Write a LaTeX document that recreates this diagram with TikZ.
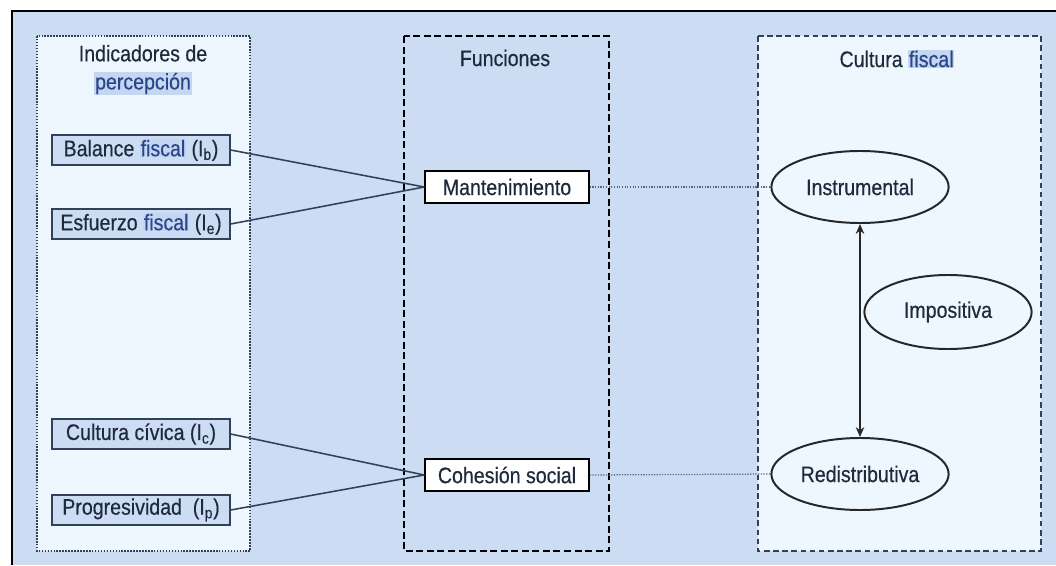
\documentclass[tikz,border=0pt]{standalone}
\usepackage{fontspec}
\setmainfont{Liberation Sans}[FakeStretch=0.87, FakeBold=0.4]
\usepackage{tikz}
\usetikzlibrary{shapes.geometric, arrows.meta, positioning}
\definecolor{bgblue}{RGB}{204,220,243}
\definecolor{panelwhite}{RGB}{238,247,253}
\definecolor{inkblue}{RGB}{30,42,60}
\definecolor{edgeblue}{RGB}{50,64,90}
\definecolor{hlblue}{RGB}{196,214,240}
\definecolor{hltext}{RGB}{40,70,140}
% highlighted word
\newcommand{\hlword}[1]{{\setlength{\fboxsep}{0.6pt}\colorbox{hlblue}{\textcolor{hltext}{#1}}}}

\begin{document}
\begin{tikzpicture}[
    x=0.025cm, y=-0.025cm,
    font=\fontsize{16pt}{20pt}\selectfont,
    indicator/.style={
      draw=edgeblue, line width=1.5pt, fill=bgblue, text=inkblue,
      minimum width=4.43cm, minimum height=0.74cm, inner sep=2pt
    },
    function/.style={
      draw=black, line width=1.1pt, fill=white, text=inkblue,
      minimum width=4.1cm, minimum height=0.8cm, inner sep=2pt
    },
    culture/.style={
      ellipse, draw=black!85, line width=1.4pt, fill=panelwhite, text=inkblue,
      minimum width=4.43cm, minimum height=1.8cm, inner sep=0pt
    },
    heading/.style={text=inkblue, align=center},
    link/.style={draw=edgeblue, line width=1.1pt},
    dotlink/.style={draw=edgeblue!80, line width=0.9pt, densely dotted}
  ]
    \useasboundingbox (0,0) rectangle (1056,565);

    % Background and frame
    \fill[bgblue] (12,11) rectangle (1056,565);
    \draw[black, line width=1.6pt] (12,565) -- (12,11) -- (1056,11);

    % Column panels
    \draw[edgeblue, fill=panelwhite, line width=1.1pt, densely dotted]
      (37,36) rectangle (250,551);
    \draw[black, line width=1.6pt, dash pattern=on 5pt off 2.5pt]
      (404,36) rectangle (609,551);
    \draw[edgeblue, fill=panelwhite, line width=1.2pt, dash pattern=on 4pt off 2.5pt]
      (758,36) rectangle (1041,551);

    % Column headings
    \node[heading] (hindic) at (143,70) {Indicadores de\\\hlword{percepción}};
    \node[heading] (hfunc) at (505,58) {Funciones};
    \node[heading] (hcult) at (897,59) {Cultura \hlword{fiscal}};

    % Perception indicators
    \node[indicator] (balance) at (141,150) {Balance \hlword{fiscal} (I\textsubscript{b})};
    \node[indicator] (esfuerzo) at (141,224) {Esfuerzo \hlword{fiscal} (I\textsubscript{e})};
    \node[indicator] (civica) at (141,434) {Cultura cívica (I\textsubscript{c})};
    \node[indicator] (progres) at (141,510) {Progresividad~ (I\textsubscript{p})};

    % Functions
    \node[function] (manten) at (507,187) {Mantenimiento};
    \node[function] (cohesion) at (507,475) {Cohesión social};

    % Fiscal culture
    \node[culture] (instr) at (860,187) {Instrumental};
    \node[culture] (redis) at (860,474) {Redistributiva};
    \node[culture, minimum width=4.18cm, minimum height=1.85cm] (impos) at (948,312) {Impositiva};

    % Indicators to functions
    \draw[link] (balance.east) -- (manten.west);
    \draw[link] (esfuerzo.east) -- (manten.west);
    \draw[link] (civica.east) -- (cohesion.west);
    \draw[link] (progres.east) -- (cohesion.west);

    % Functions to culture
    \draw[dotlink] (manten.east) -- (instr.west);
    \draw[dotlink] (cohesion.east) -- (redis.west);

    % Instrumental <-> Redistributiva
    \draw[{Stealth[length=7pt,width=6pt]}-{Stealth[length=7pt,width=6pt]}, line width=1.8pt, black!85]
      (instr.south) -- (redis.north);
  \end{tikzpicture}
\end{document}
